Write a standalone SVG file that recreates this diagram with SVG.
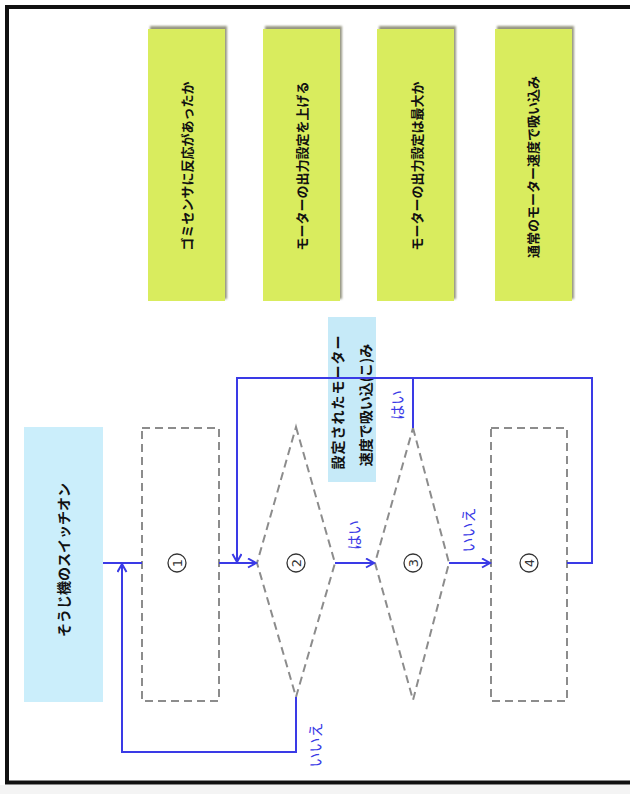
<svg xmlns="http://www.w3.org/2000/svg" width="630" height="794" viewBox="0 0 630 794">
<defs>
<style>
.jp{font-family:"Noto Sans CJK JP","Noto Sans CJK SC",sans-serif;fill:#111;font-size:13px;font-weight:bold;text-anchor:middle;dominant-baseline:central}
.lbl{font-family:"Noto Sans CJK JP","Noto Sans CJK SC",sans-serif;fill:#3a3ae6;font-size:15px;text-anchor:middle;dominant-baseline:central}
.num{font-family:"DejaVu Sans",sans-serif;fill:#333;font-size:13px;text-anchor:middle;dominant-baseline:central}
.green{fill:#d9ec5e}
.shadow{fill:#7d7d62;opacity:0.8}
.dash{fill:none;stroke:#8c8c8c;stroke-width:2;stroke-dasharray:8,5}
.con{fill:none;stroke:#3a3ae6;stroke-width:2}
.blue{fill:#cbeefb}
.ring{fill:none;stroke:#333;stroke-width:1.3}
</style>
<marker id="arr" markerWidth="12" markerHeight="12" refX="9" refY="5" orient="auto" markerUnits="userSpaceOnUse">
<path d="M1,0.5 L9,5 L1,9.5" fill="none" stroke="#3a3ae6" stroke-width="2"/>
</marker>
<filter id="blur" x="-10%" y="-10%" width="120%" height="120%"><feGaussianBlur stdDeviation="1"/></filter>
</defs>
<rect x="0" y="0" width="630" height="794" fill="#fff"/>
<rect x="0" y="785" width="630" height="9" fill="#f4f4f4"/>
<rect x="7" y="7" width="700" height="775.5" fill="none" stroke="#111" stroke-width="4"/>

<g id="legend1">
<rect class="shadow" x="150" y="26" width="77" height="273" filter="url(#blur)"/>
<rect class="green" x="148" y="29" width="77" height="272"/>
<text class="jp" transform="translate(186,166) rotate(-90)">ゴミセンサに反応があったか</text>
</g>
<g id="legend2">
<rect class="shadow" x="265" y="26" width="77" height="273" filter="url(#blur)"/>
<rect class="green" x="263" y="29" width="77" height="272"/>
<text class="jp" transform="translate(301,166) rotate(-90)">モーターの出力設定を上げる</text>
</g>
<g id="legend3">
<rect class="shadow" x="379" y="26" width="77" height="273" filter="url(#blur)"/>
<rect class="green" x="377" y="29" width="77" height="272"/>
<text class="jp" transform="translate(416,166) rotate(-90)">モーターの出力設定は最大か</text>
</g>
<g id="legend4">
<rect class="shadow" x="497" y="26" width="77" height="273" filter="url(#blur)"/>
<rect class="green" x="495" y="29" width="77" height="272"/>
<text class="jp" transform="translate(532,167) rotate(-90)">通常のモーター速度で吸い込み</text>
</g>

<g id="start">
<rect class="blue" x="24" y="427" width="79" height="275"/>
<text class="jp" style="font-size:14px" transform="translate(63,560) rotate(-90)">そうじ機のスイッチオン</text>
</g>

<g id="note">
<rect x="328" y="317" width="48" height="165" fill="#c6eaf8"/>
<text class="jp" style="font-size:14px;letter-spacing:1px" transform="translate(337,402) rotate(-90)">設定されたモーター</text>
<text class="jp" style="font-size:14px" transform="translate(365,405) rotate(-90)">速度で吸い込(こ)み</text>
</g>

<g id="n1">
<rect class="dash" x="142" y="428" width="77" height="273"/>
<circle class="ring" cx="177" cy="563" r="9"/>
<text class="num" transform="translate(177,563) rotate(-90)">1</text>
</g>
<g id="n2">
<polygon class="dash" points="296,427 335,563 296,697 257,563"/>
<circle class="ring" cx="296" cy="563" r="9"/>
<text class="num" transform="translate(296,563) rotate(-90)">2</text>
</g>
<g id="n3">
<polygon class="dash" points="413,428 449,563 413,700 375,563"/>
<circle class="ring" cx="413" cy="563" r="9"/>
<text class="num" transform="translate(413,563) rotate(-90)">3</text>
</g>
<g id="n4">
<rect class="dash" x="491" y="428" width="76" height="273"/>
<circle class="ring" cx="529" cy="563" r="9"/>
<text class="num" transform="translate(529,563) rotate(-90)">4</text>
</g>

<g id="connectors">
<path class="con" d="M103,563 H142"/>
<path class="con" d="M296,697 V752 H122 V564" marker-end="url(#arr)"/>
<path class="con" d="M219,563 H256" marker-end="url(#arr)"/>
<path class="con" d="M335,563 H374" marker-end="url(#arr)"/>
<path class="con" d="M449,563 H490" marker-end="url(#arr)"/>
<path class="con" d="M413,428 V378"/>
<path class="con" d="M567,563 H592 V378 H237 V562" marker-end="url(#arr)"/>
</g>

<g id="labels">
<text class="lbl" transform="translate(353,535) rotate(-90)">はい</text>
<text class="lbl" transform="translate(467,530) rotate(-90)">いいえ</text>
<text class="lbl" transform="translate(396,405) rotate(-90)">はい</text>
<text class="lbl" transform="translate(314,745) rotate(-90)">いいえ</text>
</g>
</svg>
